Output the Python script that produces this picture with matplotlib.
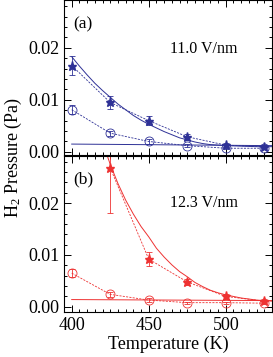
import numpy as np
import matplotlib
matplotlib.use("Agg")
from matplotlib import pyplot as plt
from matplotlib.ticker import MultipleLocator

plt.rcParams["font.family"] = ["Liberation Serif", "DejaVu Serif"]
plt.rcParams["mathtext.fontset"] = "custom"
plt.rcParams["mathtext.rm"] = "Liberation Serif"
plt.rcParams["mathtext.it"] = "Liberation Serif:italic"

# measured points
temps = [400, 425, 450, 475, 500, 525]

a_star = [0.0166, 0.0095, 0.0060, 0.0029, 0.0013, 0.0010]
a_star_err = [0.0019, 0.0012, 0.0009, 0.0006, 0.0004, 0.0003]
a_circ = [0.0081, 0.0036, 0.0020, 0.0012, 0.0007, 0.0007]
a_circ_err = [0.0009, 0.0005, 0.0004, 0.0003, 0.0002, 0.0002]

b_star_t = [425, 450, 475, 500, 525]
b_star = [0.0268, 0.0092, 0.0048, 0.0020, 0.0011]
b_star_err = [0.0087, 0.0013, 0.0006, 0.0005, 0.0003]
b_circ = [0.0065, 0.0024, 0.0013, 0.0008, 0.0008, 0.0007]
b_circ_err = [0.0008, 0.0005, 0.0004, 0.0002, 0.0002, 0.0002]

# fit curves
fit_t = [400, 405, 410, 415, 420, 425, 430, 435, 440, 445, 450, 455, 460,
         465, 470, 475, 480, 485, 490, 495, 500, 510, 520, 530]
a_fit = [0.0183, 0.0165, 0.0148, 0.0132, 0.0118, 0.0105, 0.0092, 0.0081,
         0.0070, 0.0061, 0.0053, 0.0046, 0.0039, 0.0033, 0.0027, 0.0023,
         0.0019, 0.0016, 0.0014, 0.0013, 0.0012, 0.0011, 0.0010, 0.0010]
fit_tb = [420, 425, 430, 435, 440, 445, 450, 455, 460, 465, 470, 475, 480,
          485, 490, 495, 500, 505, 510, 515, 520, 525, 530]
b_fit = [0.0318, 0.0275, 0.0238, 0.0206, 0.0179, 0.0155, 0.0135, 0.0113,
         0.0096, 0.0081, 0.0068, 0.0058, 0.0047, 0.0039, 0.0032, 0.0027,
         0.0023, 0.0020, 0.0017, 0.0015, 0.0013, 0.0012, 0.0011]

# flat baseline lines
base_t = [400, 530]
a_base = [0.0015, 0.0012]
b_base = [0.0014, 0.0012]

blue = "#2e3196"
red = "#ee3232"

fig = plt.figure(figsize=(2.73, 3.57), dpi=100)
ax1 = fig.add_axes([64 / 273, 1 - 155 / 357, 208 / 273, 155 / 357])
ax2 = fig.add_axes([64 / 273, 1 - 312 / 357, 208 / 273, 156.5 / 357])


def panel(ax, color, st, s, se, c, ce, ft, f, b):
    ax.plot(ft, f, "-", color=color, lw=0.7)
    ax.plot(base_t, b, "-", color=color, lw=0.7)
    ax.errorbar(st, s, yerr=se, fmt="*", ls="--", color=color, ms=6.5,
                lw=0.6, elinewidth=0.6, capsize=2, capthick=0.6, dashes=(2.5, 1.5))
    ax.errorbar(temps, c, yerr=ce, fmt="o", ls="--", color=color, ms=6.5,
                mfc="none", mew=0.6, lw=0.6, elinewidth=0.6, capsize=2,
                capthick=0.6, dashes=(2.5, 1.5))
    ax.set_xlim(395, 530)
    ax.xaxis.set_major_locator(MultipleLocator(50))
    ax.xaxis.set_minor_locator(MultipleLocator(5))
    ax.yaxis.set_major_locator(MultipleLocator(0.01))
    ax.yaxis.set_minor_locator(MultipleLocator(0.002))
    ax.tick_params(which="both", direction="in", top=True, right=True,
                   labelsize=13, width=0.7)
    ax.tick_params(which="major", length=5)
    ax.tick_params(which="minor", length=2.5)
    ax.yaxis.set_major_formatter(plt.FormatStrFormatter("%.2f"))
    for sp in ax.spines.values():
        sp.set_linewidth(0.8)


panel(ax1, blue, temps, a_star, a_star_err, a_circ, a_circ_err, fit_t, a_fit, a_base)
panel(ax2, red, b_star_t, b_star, b_star_err, b_circ, b_circ_err, fit_tb, b_fit, b_base)

ax1.set_ylim(-0.0006, 0.0292)
ax2.set_ylim(-0.001, 0.0292)
ax1.tick_params(labelbottom=False)

ax1.text(0.043, 0.845, "(a)", transform=ax1.transAxes, fontsize=12.5, va="center")
ax1.text(0.51, 0.684, "11.0 V/nm", transform=ax1.transAxes, fontsize=11.5, va="center")
ax2.text(0.043, 0.85, "(b)", transform=ax2.transAxes, fontsize=12.5, va="center")
ax2.text(0.51, 0.697, "12.3 V/nm", transform=ax2.transAxes, fontsize=11.5, va="center")

ax2.set_xlabel("Temperature (K)", fontsize=13, labelpad=1)
fig.text(0.05, 1 - 157 / 357, "H$_2$ Pressure (Pa)", rotation=90, fontsize=13,
         ha="center", va="center")

fig.savefig("out.png", dpi=100)
